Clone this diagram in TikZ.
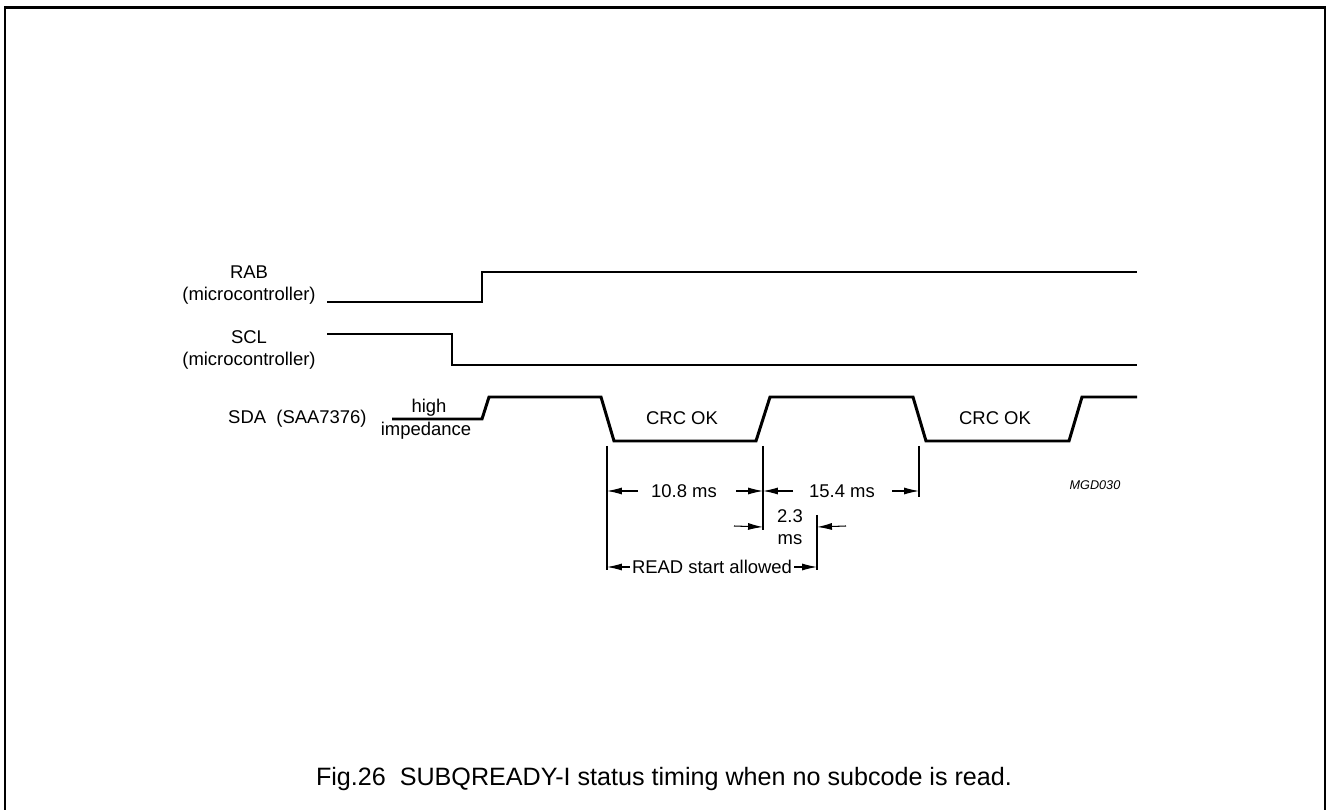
\documentclass[tikz,border=0pt]{standalone}
\usepackage{fontspec}
\setmainfont{Liberation Sans}
\usetikzlibrary{positioning,arrows.meta}

\begin{document}
\begin{tikzpicture}[x=0.02cm,y=-0.02cm,
  sig/.style={line width=1.7pt,line join=miter},
  dim/.style={line width=0.6pt},
  dimarr/.style={line width=0.6pt,-{Latex[length=8.5pt,width=4pt]}},
  lbl/.style={font=\fontsize{10.5}{12.5}\selectfont,align=center,inner sep=0pt}]
\useasboundingbox (0,0) rectangle (1326,810);
\draw[line width=1.7pt] (5,812) -- (5,8) -- (1325,8) -- (1325,812);
% signal names
\node[lbl] (rab) at (249,285) {RAB\\(microcontroller)};
\node[lbl] (scl) at (249,350) {SCL\\(microcontroller)};
\node[lbl,anchor=east] (sda) at (367,419) {SDA\ \ (SAA7376)};
\node[lbl] (hi) at (429,408) {high};
\node[lbl] (imp) at (426,431) {impedance};
% waveforms
\draw[sig] (327,302) -- (482,302) -- (482,272) -- (1137,272);
\draw[sig] (327,334) -- (452,334) -- (452,365) -- (1137,365);
\draw[sig] (392,419) -- (482,419) -- (489,397) -- (601,397) -- (614,441)
  -- (756,441) -- (770,397) -- (913,397) -- (926,441) -- (1069,441)
  -- (1082,397) -- (1137,397);
\node[lbl] (crc1) at (682,418) {CRC OK};
\node[lbl] (crc2) at (995,418) {CRC OK};
% timing marks
\coordinate (m1) at (607,446);
\coordinate (m2) at (763,446);
\coordinate (m3) at (919,446);
\coordinate (m4) at (817,515);
\draw[dim] (m1) -- ++(0,124);
\draw[dim] (m2) -- ++(0,84);
\draw[dim] (m3) -- ++(0,51);
\draw[dim] (m4) -- ++(0,55);
\node[lbl] (d108) at (684,491) {10.8 ms};
\node[lbl] (d154) at (842,491) {15.4 ms};
\node[lbl] (d23) at (790,527) {2.3\\ms};
\node[lbl] (rd) at (712,567) {READ start allowed};
\draw[dimarr] (638,491) -- (m1 |- d108);
\draw[dimarr] (736,491) -- (m2 |- d108);
\draw[dimarr] (793,491) -- (m2 |- d154);
\draw[dimarr] (892,491) -- (m3 |- d154);
\draw[dimarr] (734,526) -- (m2 |- d23);
\draw[dimarr] (846,526) -- (m4 |- d23);
\draw[dimarr] ([xshift=-1pt]rd.west) -- (m1 |- rd);
\draw[dimarr] ([xshift=1pt]rd.east) -- (m4 |- rd);
\node[font=\fontsize{7.2}{9}\selectfont\itshape,inner sep=0pt] (code) at (1095,485) {MGD030};
\node[font=\fontsize{14.3}{17}\selectfont,inner sep=0pt] (cap) at (664,779)
  {Fig.26\ \ SUBQREADY-I status timing when no subcode is read.};
\end{tikzpicture}
\end{document}
